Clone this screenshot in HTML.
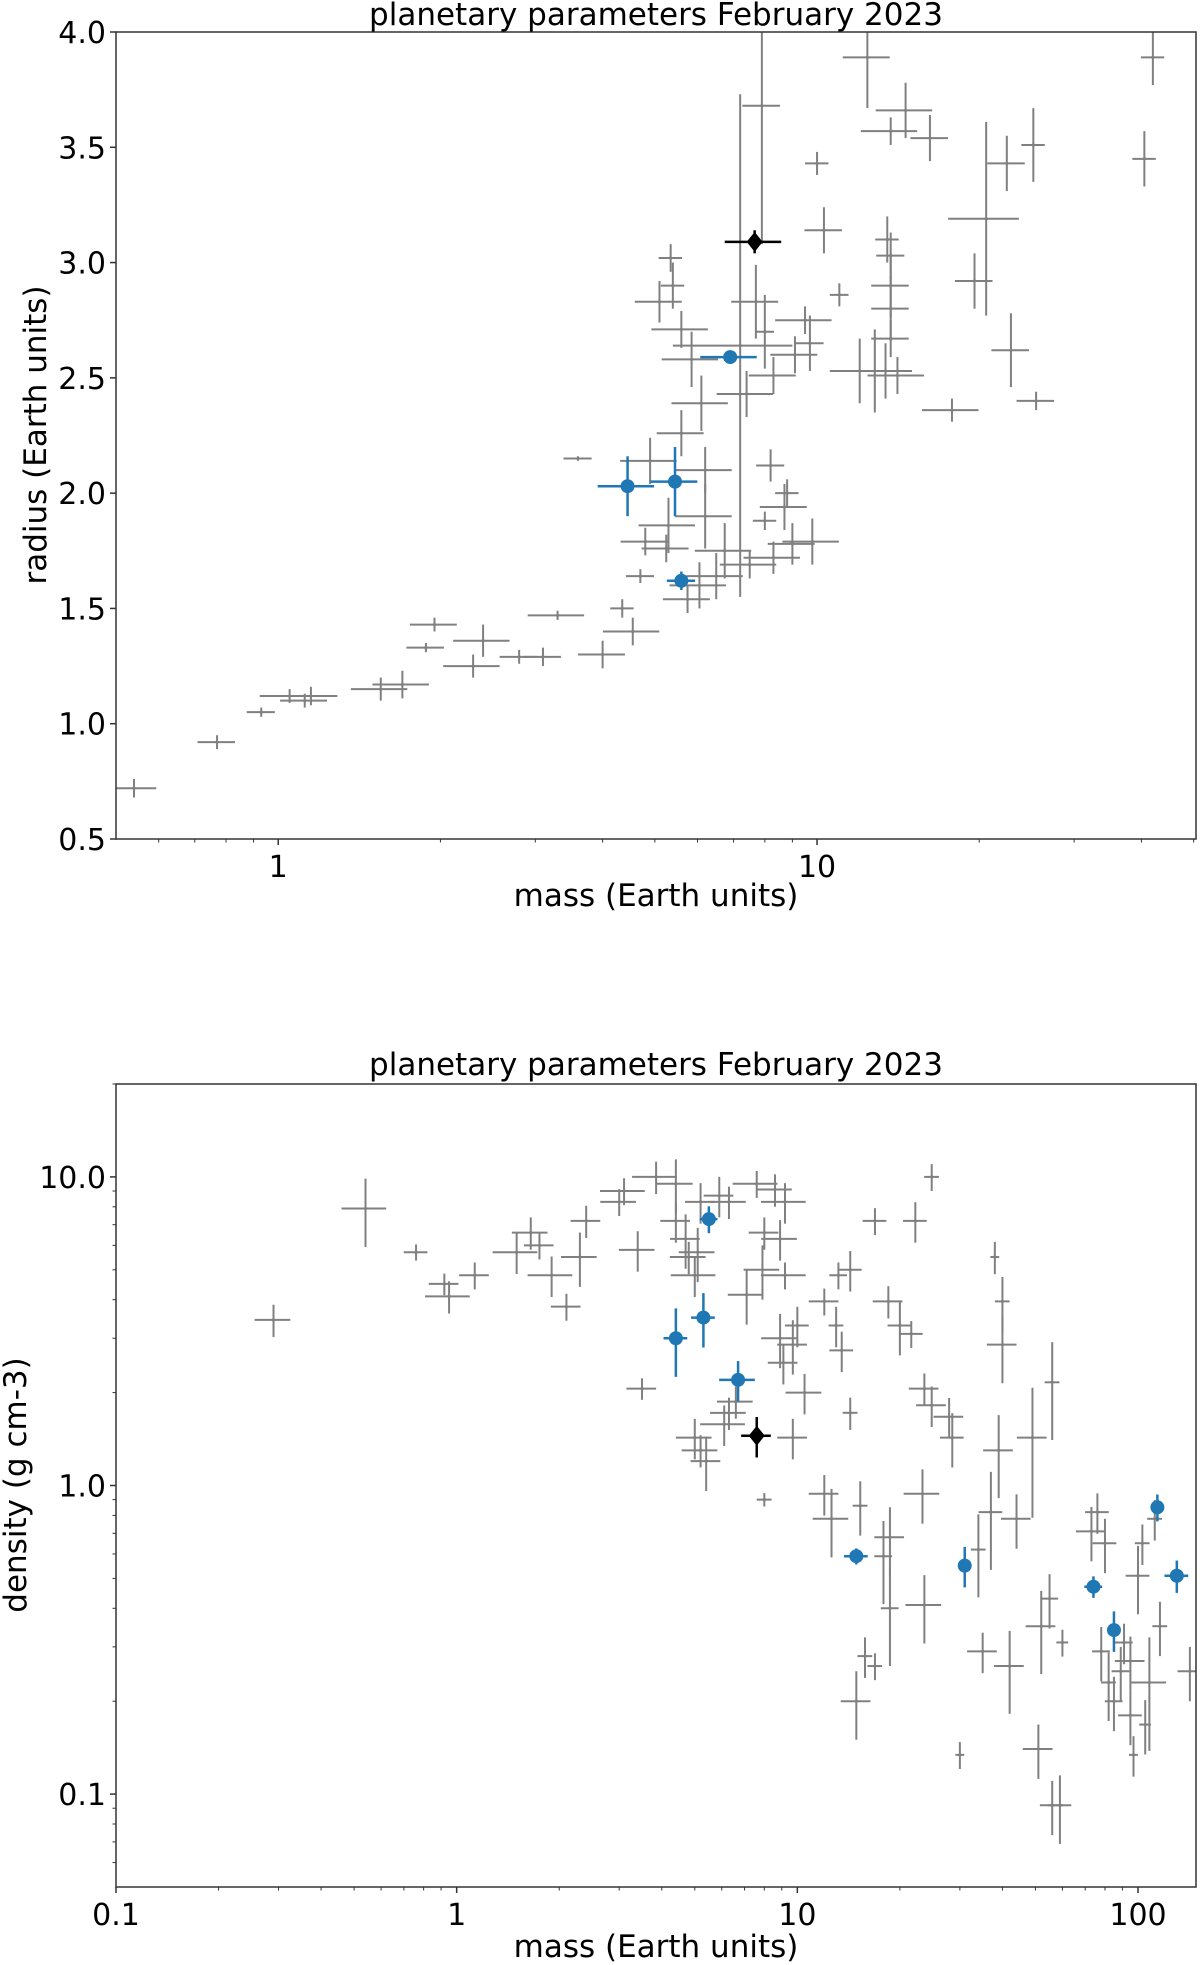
<!DOCTYPE html>
<html><head><meta charset="utf-8"><style>
body{margin:0;background:#fff;}
svg{display:block;font-family:"DejaVu Sans","Liberation Sans",sans-serif;}
</style></head><body>
<svg id="fig" width="1200" height="1965" viewBox="0 0 1200 1965" xmlns="http://www.w3.org/2000/svg"></svg>
<script>
// ---- top chart data: mass vs radius ----
const topMass   = [0.54,0.77,0.93,1.05,1.15,1.12,1.55,1.7,1.95,1.88,2.3,2.4,2.8,3.1,3.3,3.6,4.0,4.35,4.55,4.7,4.8,4.9,5.3,5.25,5.1,5.35,5.4,5.6,5.85,5.6,6.1,6.2,6.2,5.75,6.05,6.5,6.74,7.5,8.3,7.2,7.9,7.7,8.0,7.4,8.2,8.0,8.7,8.8,9.0,9.8,8.3,9.1,9.7,9.5,10,10.3,11,12,12.8,13.4,12.4,13.7,13.7,13.7,13.7,13.7,14.6,14.1,13.5,16.2,17.8,19.6,20.6,22.9,22.5,25.2,25.5,40.5,42];
const topRadius = [0.72,0.92,1.05,1.12,1.12,1.10,1.15,1.17,1.43,1.33,1.25,1.36,1.29,1.29,1.47,2.15,1.3,1.5,1.40,1.64,1.79,2.14,1.86,1.76,2.83,3.02,2.9,2.71,2.58,2.26,2.39,1.9,2.1,1.54,1.6,1.64,1.75,1.69,1.72,2.64,3.68,2.83,2.7,2.43,2.12,1.88,1.94,2.0,1.78,1.79,2.51,2.6,2.65,2.75,3.43,3.14,2.86,2.53,2.53,2.53,3.89,2.67,2.8,3.03,2.9,3.57,3.66,2.51,3.1,3.54,2.36,2.92,3.19,2.62,3.43,3.51,2.4,3.45,3.89];
const topMassErr   = [0.1,0.08,0.06,0.12,0.12,0.1,0.12,0.12,0.1,0.08,0.12,0.12,0.08,0.08,0.12,0.06,0.1,0.05,0.12,0.06,0.1,0.12,0.12,0.1,0.1,0.05,0.05,0.12,0.12,0.1,0.12,0.12,0.12,0.1,0.12,0.12,0.12,0.12,0.12,0.25,0.08,0.1,0.04,0.12,0.06,0.05,0.1,0.05,0.1,0.12,0.1,0.1,0.06,0.12,0.05,0.08,0.04,0.12,0.1,0.12,0.1,0.08,0.08,0.06,0.08,0.12,0.12,0.12,0.05,0.08,0.12,0.08,0.15,0.08,0.08,0.05,0.08,0.05,0.05];
const topRadiusErr = [0.04,0.03,0.02,0.03,0.04,0.03,0.05,0.06,0.03,0.02,0.05,0.07,0.03,0.04,0.02,0.01,0.06,0.04,0.06,0.03,0.06,0.1,0.12,0.06,0.09,0.06,0.1,0.08,0.12,0.1,0.12,0.14,0.1,0.06,0.1,0.1,0.12,0.06,0.07,1.09,0.6,0.16,0.16,0.1,0.07,0.04,0.1,0.06,0.09,0.1,0.08,0.08,0.12,0.06,0.05,0.1,0.05,0.14,0.18,0.12,0.22,0.08,0.14,0.1,0.14,0.06,0.12,0.08,0.1,0.1,0.05,0.12,0.42,0.16,0.12,0.16,0.04,0.12,0.12];
const topBlueMass = [6.9,5.45,4.45,5.6];
const topBlueRadius = [2.59,2.05,2.03,1.62];
const topBlueMassErr = [0.12,0.1,0.12,0.06];
const topBlueRadiusErr = [0.02,0.15,0.13,0.04];
const topBlackMass = [7.66];
const topBlackRadius = [3.09];
const topBlackMassErr = [0.12];
const topBlackRadiusErr = [0.05];
const topXTicks = [1,10];
const topXTickLabels = ["1","10"];
const topYTicks = [0.5,1.0,1.5,2.0,2.5,3.0,3.5,4.0];

// ---- bottom chart data: mass vs density ----
const botMass    = [0.29,0.54,0.76,0.92,0.95,1.13,1.5,1.65,1.75,1.9,2.1,2.3,2.4,3.0,3.1,3.4,3.5,3.85,4.4,4.4,4.7,4.8,5.0,5.1,5.2,5.9,6.3,5.2,5.4,5.0,6.3,6.1,6.6,7.6,8.6,9.2,8.0,8.9,7.1,7.9,9.2,8.9,9.7,9.1,10,8.0,9.7,10.5,12,12,13,13.5,13.2,14.3,14.3,12.6,15.3,15.8,14.9,16.9,16.9,17.9,18.7,18.7,18.5,20,21.6,22.2,24.8,23.6,24.8,27.9,28.5,23.3,23.6,30,34,35,38,40,40,39,37,44,42,49,56,51,56,59,52,55,60,76,73,80,78,82,85,89,95,95,91,100,97,105,108,103,112,142,116];
const botDensity = [3.44,7.9,5.7,4.5,4.1,4.8,5.7,6.6,6.0,4.8,3.8,5.5,7.2,8.3,9.0,5.8,2.06,10,9.5,7.2,6.3,5.5,4.8,5.7,8.3,8.7,8.3,1.3,1.2,1.43,1.72,1.58,1.87,9.5,9.1,8.3,6.6,6.3,4.15,5.0,4.8,3.0,2.86,2.5,3.3,0.9,1.43,2.0,3.95,0.94,3.3,2.74,4.8,1.72,5.0,0.78,0.86,0.28,0.2,0.26,7.2,0.59,0.4,0.68,3.95,3.3,3.1,7.2,10,2.06,1.82,1.67,1.43,0.94,0.41,0.134,0.62,0.29,5.5,3.95,2.86,1.3,0.82,0.78,0.26,1.43,2.16,0.14,0.092,0.092,0.35,0.43,0.31,0.82,0.71,0.65,0.29,0.23,0.2,0.25,0.18,0.27,0.31,0.51,0.134,0.168,0.23,0.65,0.78,0.25,0.35];
const botMassErr    = [0.12,0.15,0.08,0.1,0.15,0.1,0.15,0.12,0.1,0.15,0.1,0.12,0.1,0.12,0.15,0.12,0.1,0.15,0.12,0.1,0.1,0.12,0.15,0.12,0.1,0.1,0.12,0.12,0.1,0.12,0.12,0.15,0.12,0.15,0.12,0.15,0.1,0.12,0.12,0.12,0.15,0.12,0.1,0.1,0.08,0.05,0.1,0.12,0.1,0.1,0.05,0.08,0.06,0.05,0.08,0.12,0.05,0.05,0.1,0.05,0.08,0.06,0.06,0.1,0.1,0.08,0.08,0.08,0.05,0.1,0.1,0.1,0.08,0.12,0.12,0.03,0.05,0.1,0.03,0.05,0.1,0.1,0.08,0.1,0.1,0.1,0.05,0.1,0.08,0.08,0.1,0.06,0.04,0.08,0.1,0.08,0.06,0.05,0.06,0.06,0.08,0.1,0.06,0.08,0.03,0.04,0.12,0.05,0.05,0.08,0.05];
const botDensityErr = [0.12,0.25,0.06,0.08,0.12,0.1,0.15,0.12,0.1,0.15,0.1,0.2,0.12,0.1,0.1,0.15,0.08,0.12,0.2,0.15,0.2,0.12,0.15,0.2,0.15,0.15,0.12,0.12,0.2,0.15,0.12,0.15,0.12,0.1,0.12,0.15,0.12,0.15,0.2,0.2,0.1,0.2,0.2,0.15,0.15,0.05,0.15,0.15,0.1,0.15,0.15,0.15,0.1,0.12,0.15,0.25,0.2,0.15,0.25,0.1,0.1,0.3,0.35,0.25,0.12,0.2,0.1,0.15,0.1,0.12,0.15,0.15,0.2,0.2,0.25,0.1,0.3,0.15,0.12,0.2,0.25,0.3,0.35,0.2,0.3,0.45,0.35,0.2,0.2,0.25,0.3,0.2,0.1,0.15,0.2,0.2,0.2,0.25,0.2,0.2,0.2,0.2,0.15,0.25,0.15,0.2,0.4,0.15,0.15,0.2,0.2];
const botBlueMass = [5.5,5.3,4.4,6.7,14.9,31,74,85,114,130];
const botBlueDensity = [7.3,3.5,3.0,2.2,0.59,0.55,0.47,0.34,0.85,0.51];
const botBlueMassErr = [0.06,0.08,0.08,0.12,0.08,0.03,0.06,0.04,0.04,0.08];
const botBlueDensityErr = [0.1,0.2,0.25,0.15,0.06,0.15,0.08,0.15,0.1,0.12];
const botBlackMass = [7.6];
const botBlackDensity = [1.45];
const botBlackMassErr = [0.1];
const botBlackDensityErr = [0.15];
const botXTicks = [0.1,1,10,100];
const botXTickLabels = ["0.1","1","10","100"];
const botYTicks = [0.1,1,10];
const botYTickLabels = ["0.1","1.0","10.0"];

const NS="http://www.w3.org/2000/svg";
const svg=document.getElementById('fig');
function mk(tag,attrs,parent){const e=document.createElementNS(NS,tag);for(const k in attrs)e.setAttribute(k,attrs[k]);(parent||svg).appendChild(e);return e;}
function txt(s,x,y,size,anchor,parent,rot){const t=mk('text',{x:x,y:y,'font-size':size,'text-anchor':anchor||'middle',fill:'#000'},parent);if(rot)t.setAttribute('transform','rotate(-90 '+x+' '+y+')');t.textContent=s;return t;}

const L=116,R=1196;
const T1=32,B1=839,T2=1084,B2=1887;
function logX(min,max){return v=>L+(Math.log10(v)-Math.log10(min))/(Math.log10(max)-Math.log10(min))*(R-L);}
const x1=logX(0.5,50.5), y1=v=>B1-(v-0.5)/(4.0-0.5)*(B1-T1);
const x2=logX(0.1,148), y2=v=>B2-(Math.log10(v)-Math.log10(0.05))/(Math.log10(20)-Math.log10(0.05))*(B2-T2);

function drawErr(g,xs,ys,mx,my,col,w,xf,yf,yLog){
  for(let i=0;i<mx.length;i++){
    const cx=xs(mx[i]),cy=ys(my[i]);
    const xa=xs(mx[i]*(1-xf[i])),xb=xs(mx[i]*(1+xf[i]));
    let ya,yb;
    if(yLog){ya=ys(my[i]*(1-Math.min(yf[i],0.9)));yb=ys(my[i]*(1+yf[i]));}
    else{ya=ys(my[i]-yf[i]);yb=ys(my[i]+yf[i]);}
    const h=mk('line',{x1:xa,y1:cy,x2:xb,y2:cy,stroke:col,'stroke-width':w},g);
    
    
    const v=mk('line',{x1:cx,y1:ya,x2:cx,y2:yb,stroke:col,'stroke-width':w},g);
    
    
  }
}
function drawDots(g,xs,ys,mx,my,kind){
  for(let i=0;i<mx.length;i++){
    const cx=xs(mx[i]),cy=ys(my[i]);
    let e;
    if(kind==='blue'){e=mk('circle',{cx:cx,cy:cy,r:7,fill:'#1f77b4'},g);}
    else if(kind==='black'){e=mk('polygon',{points:`${cx},${cy-10} ${cx+8},${cy} ${cx},${cy+10} ${cx-8},${cy}`,fill:'#000'},g);}
    else {e=mk('circle',{cx:cx,cy:cy,r:1.6,fill:'#808080'},g);}
    
  }
}

function axesFrame(name,T,B){
  const g=mk('g',{});
  
  
  const clip=mk('clipPath',{id:'clip-'+name},g);
  mk('rect',{x:L,y:T,width:R-L,height:B-T},clip);
  const plot=mk('g',{'clip-path':'url(#clip-'+name+')'},g);
  return {g,plot};
}
function frame(g,T,B){const r=mk('rect',{x:L,y:T,width:R-L,height:B-T,fill:'none',stroke:'#333','stroke-width':1.5},g);}

const TS=30, LS=31;
// ---- top chart ----
const A=axesFrame('mass-radius-chart',T1,B1);
drawErr(A.plot,x1,y1,topMass,topRadius,'#808080',2,topMassErr,topRadiusErr,false);
drawDots(A.plot,x1,y1,topMass,topRadius,'gray');
drawErr(A.plot,x1,y1,topBlueMass,topBlueRadius,'#1f77b4',2.5,topBlueMassErr,topBlueRadiusErr,false);
drawDots(A.plot,x1,y1,topBlueMass,topBlueRadius,'blue');
drawErr(A.plot,x1,y1,topBlackMass,topBlackRadius,'#000',2.5,topBlackMassErr,topBlackRadiusErr,false);
drawDots(A.plot,x1,y1,topBlackMass,topBlackRadius,'black');
frame(A.g,T1,B1);
topYTicks.forEach(v=>{const y=y1(v);mk('line',{x1:L-6,y1:y,x2:L,y2:y,stroke:'#333','stroke-width':1.5},A.g);const t=txt(v.toFixed(1),L-10,y+11,TS,'end',A.g);});
topXTicks.forEach((v,i)=>{const x=x1(v);mk('line',{x1:x,y1:B1,x2:x,y2:B1+6,stroke:'#333','stroke-width':1.5},A.g);const t=txt(topXTickLabels[i],x,B1+38,TS,'middle',A.g);});
[0.6,0.7,0.8,0.9,2,3,4,5,6,7,8,9,20,30,40,50].forEach(v=>{const x=x1(v);mk('line',{x1:x,y1:B1,x2:x,y2:B1+3.5,stroke:'#333','stroke-width':1},A.g);});
let t;
t=txt('planetary parameters February 2023',656,25,LS,'middle',A.g);
t=txt('mass (Earth units)',656,906,LS,'middle',A.g);
t=txt('radius (Earth units)',46,435,LS,'middle',A.g,true);

// ---- bottom chart ----
const Bc=axesFrame('mass-density-chart',T2,B2);
drawErr(Bc.plot,x2,y2,botMass,botDensity,'#808080',2,botMassErr,botDensityErr,true);
drawDots(Bc.plot,x2,y2,botMass,botDensity,'gray');
drawErr(Bc.plot,x2,y2,botBlueMass,botBlueDensity,'#1f77b4',2.5,botBlueMassErr,botBlueDensityErr,true);
drawDots(Bc.plot,x2,y2,botBlueMass,botBlueDensity,'blue');
drawErr(Bc.plot,x2,y2,botBlackMass,botBlackDensity,'#000',2.5,botBlackMassErr,botBlackDensityErr,true);
drawDots(Bc.plot,x2,y2,botBlackMass,botBlackDensity,'black');
frame(Bc.g,T2,B2);
botYTicks.forEach((v,i)=>{const y=y2(v);mk('line',{x1:L-6,y1:y,x2:L,y2:y,stroke:'#333','stroke-width':1.5},Bc.g);const t=txt(botYTickLabels[i],L-10,y+11,TS,'end',Bc.g);});
[0.06,0.07,0.08,0.09,0.2,0.3,0.4,0.5,0.6,0.7,0.8,0.9,2,3,4,5,6,7,8,9,20].forEach(v=>{const y=y2(v);mk('line',{x1:L-3.5,y1:y,x2:L,y2:y,stroke:'#333','stroke-width':1},Bc.g);});
botXTicks.forEach((v,i)=>{const x=x2(v);mk('line',{x1:x,y1:B2,x2:x,y2:B2+6,stroke:'#333','stroke-width':1.5},Bc.g);const t=txt(botXTickLabels[i],x,B2+38,TS,'middle',Bc.g);});
[0.2,0.3,0.4,0.5,0.6,0.7,0.8,0.9,2,3,4,5,6,7,8,9,20,30,40,50,60,70,80,90].forEach(v=>{const x=x2(v);mk('line',{x1:x,y1:B2,x2:x,y2:B2+3.5,stroke:'#333','stroke-width':1},Bc.g);});
t=txt('planetary parameters February 2023',656,1075,LS,'middle',Bc.g);
t=txt('mass (Earth units)',656,1957,LS,'middle',Bc.g);
t=txt('density (g cm-3)',26,1485,LS,'middle',Bc.g,true);
</script>
</body></html>
